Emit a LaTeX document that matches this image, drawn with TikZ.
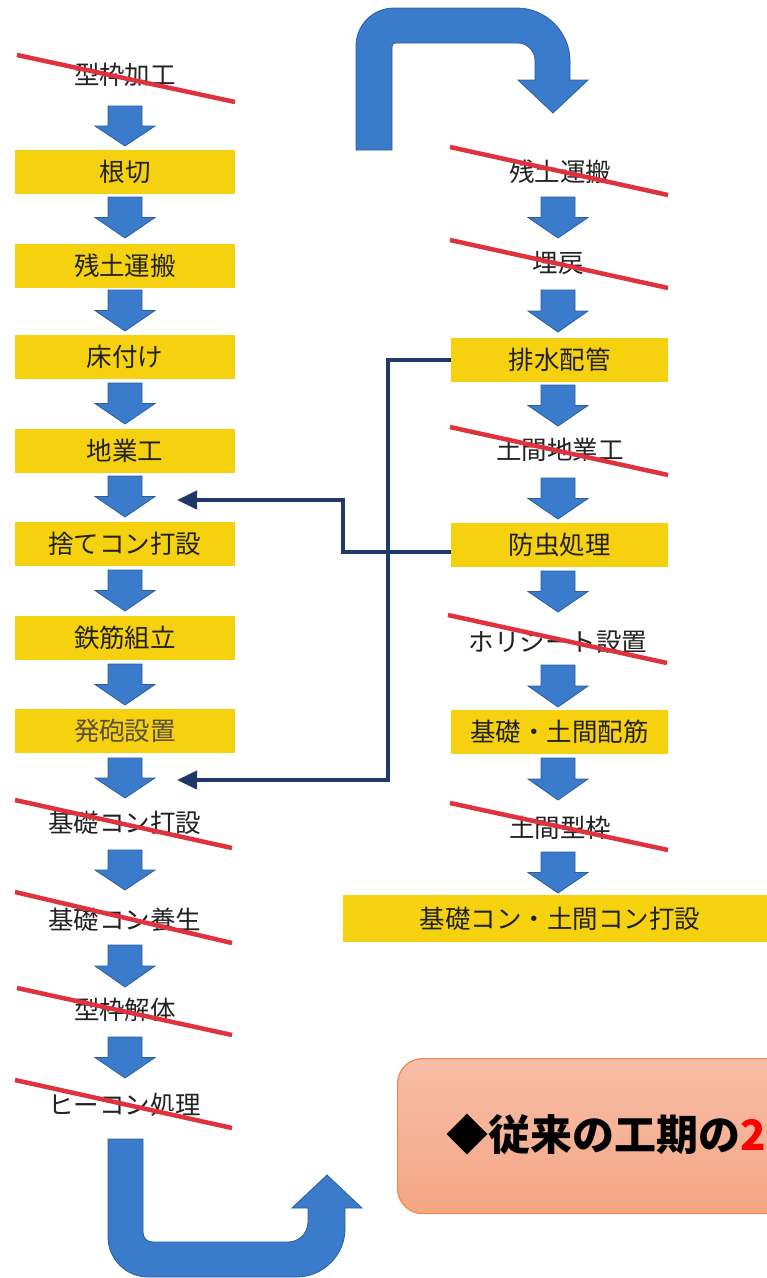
\documentclass[tikz,border=0pt]{standalone}
\usepackage{fontspec}
\setmainfont{Noto Sans CJK JP}
\usetikzlibrary{arrows.meta}
\definecolor{ybox}{HTML}{F6D10F}
\definecolor{bfill}{HTML}{3A7BCB}
\definecolor{bline}{HTML}{2B5E9E}
\definecolor{strikered}{HTML}{E0323C}
\definecolor{navy}{HTML}{1F3A68}
\definecolor{txt}{HTML}{222222}
\definecolor{foam}{HTML}{5A4E3C}
\definecolor{ctop}{HTML}{F7BEA8}
\definecolor{cbot}{HTML}{F4A684}
\definecolor{cline}{HTML}{EE8A4A}
\newcommand\blkarrow[3]{\filldraw[blk] ({#1-17},#2) -- ({#1+17},#2) -- ({#1+17},{(#2+#3)/2}) -- ({#1+30},{(#2+#3)/2}) -- (#1,#3) -- ({#1-30},{(#2+#3)/2}) -- ({#1-17},{(#2+#3)/2}) -- cycle;}
\tikzset{
  stepbox/.style={fill=ybox, minimum width=220pt, minimum height=44pt, inner sep=0pt, text=txt, font=\fontsize{25.5pt}{28pt}\selectfont},
  crossed/.style={text=txt, inner sep=0pt, font=\fontsize{25.5pt}{28pt}\selectfont},
  strikeline/.style={strikered, line width=4.5pt},
  blk/.style={fill=bfill, draw=bline, line width=0.8pt},
  conn/.style={navy, line width=4pt, -{Triangle[length=20pt,width=18pt]}},
  callout/.style={draw=cline, line width=1.2pt, top color=ctop, bottom color=cbot, rounded corners=25pt, inner sep=0pt}
}
\begin{document}
\begin{tikzpicture}[x=1pt,y=-1pt]
\useasboundingbox (0,0) rectangle (767,1278);
\clip (0,0) rectangle (767,1278);
\fill[white] (0,0) rectangle (767,1278);

% ---------- left column ----------
\node[crossed] (l0) at (125,75) {型枠加工};
\draw[strikeline] (17,55) -- (235,102);
\node[stepbox] (l1) at (125,171.5) {根切};
\node[stepbox] (l2) at (125,266) {残土運搬};
\node[stepbox] (l3) at (125,356.5) {床付け};
\node[stepbox] (l4) at (125,450.5) {地業工};
\node[stepbox] (l5) at (125,543.5) {捨てコン打設};
\node[stepbox] (l6) at (125,637.5) {鉄筋組立};
\node[stepbox, text=foam] (l7) at (125,730.5) {発砲設置};
\node[crossed] (l8) at (125,823) {基礎コン打設};
\draw[strikeline] (15,800) -- (232,848);
\node[crossed] (l9) at (125,920) {基礎コン養生};
\draw[strikeline] (15,892) -- (232,943);
\node[crossed] (l10) at (125,1010) {型枠解体};
\draw[strikeline] (17,988) -- (232,1035);
\node[crossed] (l11) at (125,1105) {ヒーコン処理};
\draw[strikeline] (15,1080) -- (232,1128);

\blkarrow{125}{106}{146}
\blkarrow{125}{197}{238}
\blkarrow{125}{290}{331}
\blkarrow{125}{383}{424}
\blkarrow{125}{476}{517}
\blkarrow{125}{570}{611}
\blkarrow{125}{664}{705}
\blkarrow{125}{758}{798}
\blkarrow{125}{850}{890}
\blkarrow{125}{945}{987}
\blkarrow{125}{1037}{1078}

% ---------- right column ----------
\node[crossed] (r1) at (560,172) {残土運搬};
\draw[strikeline] (450,147) -- (668,195);
\node[crossed] (r2) at (558,263) {埋戻};
\draw[strikeline] (450,240) -- (668,288);
\node[stepbox, minimum width=217pt] (haisui) at (559.5,359.5) {排水配管};
\node[crossed] (r4) at (560,450) {土間地業工};
\draw[strikeline] (450,427) -- (668,475);
\node[stepbox, minimum width=217pt] (bochu) at (559.5,545) {防虫処理};
\node[crossed] (r6) at (558,642) {ホリシート設置};
\draw[strikeline] (448,615) -- (667,663);
\node[stepbox, minimum width=217pt] (haikin) at (559.5,732) {基礎・土間配筋};
\node[crossed] (r8) at (560,828) {土間型枠};
\draw[strikeline] (450,803) -- (668,850);
\node[stepbox, minimum width=440pt, minimum height=47pt, anchor=west] (final) at (343,918.5) {};
\node[crossed] (finaltxt) at (560,918.5) {基礎コン・土間コン打設};

\blkarrow{558}{197}{238}
\blkarrow{558}{290}{332}
\blkarrow{558}{385}{426}
\blkarrow{558}{478}{519}
\blkarrow{558}{571}{612}
\blkarrow{558}{665}{707}
\blkarrow{558}{758}{800}
\blkarrow{558}{852}{893}

% ---------- U-turn arrows ----------
\filldraw[blk] (356,150) -- (356,46) .. controls (356,25) and (373,8) .. (394,8) -- (517,8) .. controls (546,8) and (570,32) .. (570,61) -- (570,80) -- (588,80) -- (553,113) -- (518,80) -- (535,80) -- (535,60) .. controls (535,51) and (527,43) .. (518,43) -- (396,43) .. controls (393,43) and (392,44) .. (392,47) -- (392,150) -- cycle;
\filldraw[blk] (108,1139) -- (108,1237) .. controls (108,1259) and (126,1277) .. (148,1277) -- (297,1277) .. controls (323,1277) and (345,1255) .. (345,1229) -- (345,1208) -- (362,1208) -- (327,1175) -- (292,1208) -- (308,1208) -- (308,1222) .. controls (308,1233) and (299,1242) .. (288,1242) -- (153,1242) .. controls (147,1242) and (143,1238) .. (143,1232) -- (143,1139) -- cycle;

% ---------- connectors ----------
\coordinate (t1) at (177,500);
\coordinate (t2) at (177,780);
\draw[conn] ([yshift=-7pt]bochu.west) -- (343,552) |- (t1);
\draw[conn] (haisui.west) -- (388,359.5) |- (t2);

% ---------- callout ----------
\node[callout, minimum width=410pt, minimum height=155pt, anchor=north west] (note) at (397,1058) {};
\node[anchor=west, inner sep=0pt, font=\bfseries\fontsize{42pt}{44pt}\selectfont] (msg) at (446,1135) {◆従来の工期の\textcolor{red}{2}};
\end{tikzpicture}
\end{document}
